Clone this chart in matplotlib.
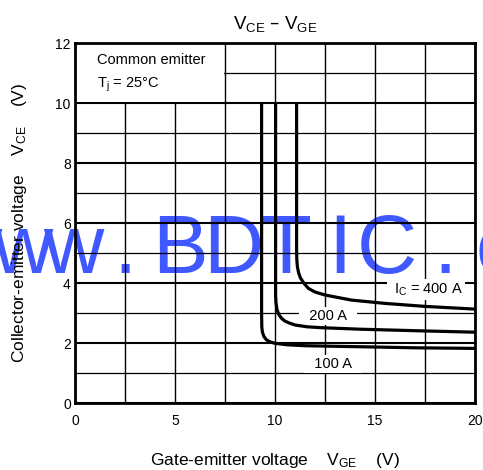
import matplotlib
matplotlib.use("Agg")
import matplotlib.pyplot as plt
from matplotlib.patches import Rectangle

plt.rcParams['font.family'] = ['Liberation Sans', 'DejaVu Sans']
plt.rcParams['mathtext.default'] = 'regular'

# curves (VGE in V, VCE in V)
vge_100 = [9.33, 9.33, 9.34, 9.37, 9.45, 9.58, 9.78, 10.0, 10.6, 11.5, 13.0, 14.7, 17.0, 20.0]
vce_100 = [10.0, 3.0, 2.55, 2.37, 2.22, 2.11, 2.04, 2.0, 1.95, 1.92, 1.9, 1.88, 1.85, 1.83]

vge_200 = [10.03, 10.03, 10.05, 10.1, 10.2, 10.33, 10.5, 10.7, 11.0, 11.6, 12.33, 14.25, 17.0, 20.0]
vce_200 = [10.0, 3.6, 3.35, 3.12, 2.95, 2.83, 2.74, 2.68, 2.61, 2.55, 2.52, 2.47, 2.42, 2.37]

vge_400 = [11.08, 11.08, 11.09, 11.12, 11.18, 11.27, 11.45, 11.67, 12.0, 12.5, 13.2, 13.83, 15.5, 17.5, 20.0]
vce_400 = [10.0, 5.1, 4.8, 4.55, 4.35, 4.18, 4.0, 3.83, 3.71, 3.61, 3.52, 3.44, 3.33, 3.23, 3.14]

x_major = [0, 5, 10, 15, 20]
x_minor = [2.5, 7.5, 12.5, 17.5]
y_major = [0, 2, 4, 6, 8, 10, 12]
y_minor = [1, 3, 5, 7, 9, 11]

watermark = "www.BDTIC.com"
wm_x = [-29, 22, 73, 125, 180, 233, 286, 340, 387, 445, 496, 550, 610]  # pixel centres

fig = plt.figure(figsize=(4.83, 4.70), dpi=100)
ax = fig.add_axes([75 / 483, (470 - 403.3) / 470, 400 / 483, 360 / 470])
ax.set_facecolor('none')

# watermark behind the chart lines
for ch, px in zip(watermark, wm_x):
    fig.text(px / 483, (470 - 273) / 470, ch, fontsize=60, color='#4058ff',
             ha='center', va='baseline', zorder=-1)

ax.set_xlim(0, 20)
ax.set_ylim(0, 12)
ax.set_xticks(x_major)
ax.set_xticks(x_minor, minor=True)
ax.set_yticks(y_major)
ax.set_yticks(y_minor, minor=True)
ax.tick_params(which='both', length=0, labelsize=10)
ax.tick_params(axis='x', pad=8)
ax.tick_params(axis='y', pad=3)

ax.set_axisbelow(True)
ax.grid(axis='x', which='both', color='black', lw=1.0)
ax.grid(axis='y', which='major', color='black', lw=1.5)
ax.grid(axis='y', which='minor', color='black', lw=0.9)

for s in ax.spines.values():
    s.set_linewidth(2.0)

# white box for the conditions text
ax.add_patch(Rectangle((0, 10.06), 7.44, 1.94, facecolor='white', edgecolor='none', zorder=1))
ax.text(1.1, 11.44, 'Common emitter', fontsize=10.5, va='center', zorder=3)
ax.text(1.1, 10.6, '$T_j$ = 25°C', fontsize=10.5, va='center', zorder=3)

for xs, ys in [(vge_100, vce_100), (vge_200, vce_200), (vge_400, vce_400)]:
    ax.plot(xs, ys, color='black', lw=2.3, solid_capstyle='butt',
            solid_joinstyle='round', zorder=5)

box = dict(facecolor='white', edgecolor='none', pad=1.5)
ax.text(17.55, 3.8, ' $I_C$ = 400 A ', fontsize=10.5, ha='center', va='center', bbox=box, zorder=4)
ax.text(12.65, 2.92, '  200 A  ', fontsize=10.5, ha='center', va='center', bbox=box, zorder=4)
ax.text(12.9, 1.3, '  100 A  ', fontsize=10.5, ha='center', va='center', bbox=box, zorder=4)

ax.set_title('$V_{CE}$ – $V_{GE}$', fontsize=13.5, pad=10)
ax.set_xlabel('Gate-emitter voltage    $V_{GE}$    (V)', fontsize=12.5, labelpad=16)
ax.set_ylabel('Collector-emitter voltage    $V_{CE}$    (V)', fontsize=12.5, labelpad=19)

fig.savefig('out.png', dpi=100)
